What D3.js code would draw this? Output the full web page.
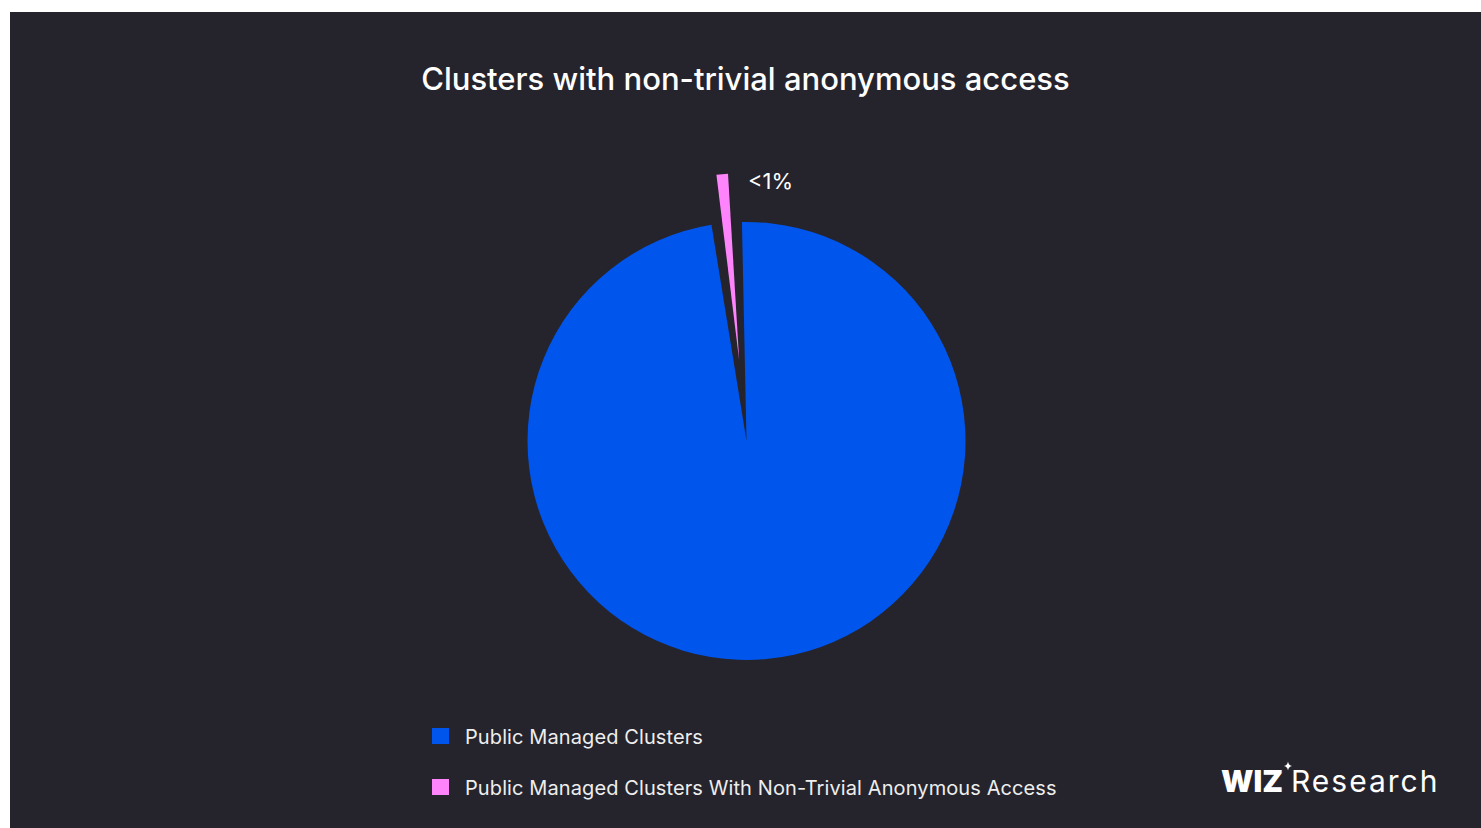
<!DOCTYPE html>
<html>
<head>
<meta charset="utf-8">
<script src="https://cdn.jsdelivr.net/npm/d3@7"></script>
<style>
  html, body { margin: 0; padding: 0; background: #ffffff; }
  svg { display: block; }
</style>
</head>
<body>
<svg id="chart" width="1481" height="828"></svg>
<script>
// ---- data ----
const chartTitle = "Clusters with non-trivial anonymous access";
const categories = [
  "Public Managed Clusters",
  "Public Managed Clusters With Non-Trivial Anonymous Access"
];
const shares = [99.01, 0.99];          // percent of public managed clusters
const sliceLabels = [null, "<1%"];
const sliceColors = ["#0055ec", "#fd84fa"];

// ---- layout ----
const W = 1481, H = 828;
const font = "Inter, 'Noto Sans', sans-serif";
const cx = 746.5, cy = 441, radius = 219;
const explodedRadius = 187, explodeOffset = 81;
const gapAngle = 0.0775;               // dark gap cut around the exploded slice
const deg = Math.PI / 180;

const svg = d3.select("#chart");

// panel background
svg.append("rect")
  .attr("x", 10).attr("y", 12)
  .attr("width", W - 10).attr("height", H - 12)
  .attr("fill", "#25242d");

// title
svg.append("text")
  .attr("x", 745.5).attr("y", 90)
  .attr("text-anchor", "middle")
  .attr("font-family", font)
  .attr("font-size", 31)
  .attr("font-weight", 500)
  .attr("fill", "#ffffff")
  .text(chartTitle);

// pie layout: small slice centred just left of 12 o'clock
const smallAngle = shares[1] / d3.sum(shares) * 2 * Math.PI;
const smallMid = -5.2 * deg;
const start = smallMid + smallAngle / 2;
const pie = d3.pie().sort(null).value(d => d)
  .startAngle(start).endAngle(start + 2 * Math.PI);
const arcs = pie(shares);

const g = svg.append("g").attr("transform", `translate(${cx},${cy})`);

const mainArc = d3.arc().innerRadius(0).outerRadius(radius).padAngle(gapAngle);
const smallArc = d3.arc().innerRadius(0).outerRadius(explodedRadius);

arcs.forEach((a, i) => {
  if (i === 0) {
    g.append("path")
      .attr("d", mainArc(a))
      .attr("fill", sliceColors[i]);
  } else {
    const mid = (a.startAngle + a.endAngle) / 2;
    const dx = explodeOffset * Math.sin(mid);
    const dy = -explodeOffset * Math.cos(mid);
    g.append("path")
      .attr("transform", `translate(${dx},${dy})`)
      .attr("d", smallArc({ ...a, padAngle: 0 }))
      .attr("fill", sliceColors[i]);
    // value label beside the outer corner of the slice
    const ex = dx + explodedRadius * Math.sin(a.endAngle);
    const ey = dy - explodedRadius * Math.cos(a.endAngle);
    g.append("text")
      .attr("x", ex + 20).attr("y", ey + 15)
      .attr("font-family", font)
      .attr("font-size", 22)
      .attr("fill", "#ffffff")
      .text(sliceLabels[i]);
  }
});

// legend
const legend = svg.append("g").attr("transform", "translate(432,728)");
categories.forEach((c, i) => {
  const row = legend.append("g").attr("transform", `translate(0,${i * 51})`);
  row.append("rect").attr("width", 17).attr("height", 16).attr("fill", sliceColors[i]);
  row.append("text")
    .attr("x", 33).attr("y", 15.5)
    .attr("font-family", font)
    .attr("font-size", 20)
    .attr("letter-spacing", 0.1)
    .attr("fill", "#eeeeee")
    .text(c);
});

// brand mark
const brand = svg.append("g");
brand.append("text")
  .attr("x", 1221).attr("y", 792)
  .attr("font-family", font)
  .attr("font-size", 30)
  .attr("font-weight", 900)
  .attr("fill", "#ffffff")
  .text("WIZ");
brand.append("path")
  .attr("transform", "translate(1288,766)")
  .attr("d", "M0,-4.5 Q0.6,-0.6 4,0 Q0.6,0.6 0,4.5 Q-0.6,0.6 -4,0 Q-0.6,-0.6 0,-4.5Z")
  .attr("fill", "#ffffff");
brand.append("text")
  .attr("x", 1291).attr("y", 792)
  .attr("font-family", font)
  .attr("font-size", 30)
  .attr("font-weight", 400)
  .attr("letter-spacing", 2)
  .attr("fill", "#ffffff")
  .text("Research");
</script>
</body>
</html>
